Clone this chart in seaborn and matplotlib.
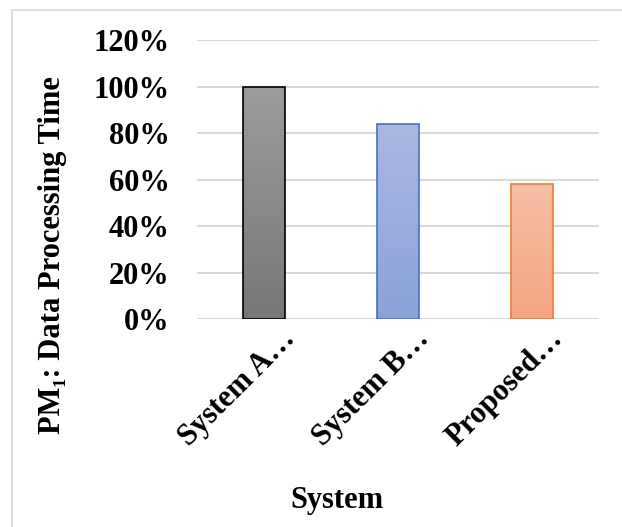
import numpy as np
import pandas as pd
import seaborn as sns
import matplotlib.pyplot as plt
import matplotlib.transforms as mtransforms
from matplotlib.patches import Rectangle
from matplotlib.colors import LinearSegmentedColormap
from matplotlib.ticker import PercentFormatter

systems = ['System A…', 'System B…', 'Proposed…']
times = [100, 84, 58]
top_colors = ['#9c9c9c', '#aab8e1', '#f6bea6']
bottom_colors = ['#777777', '#8aa2d8', '#f4a582']
edge_colors = ['#000000', '#4472c4', '#ed7d31']

df = pd.DataFrame({'System': systems, 'Time': times})

sns.set_theme(style='white')
plt.rcParams['font.family'] = ['Liberation Serif', 'DejaVu Serif']
plt.rcParams['font.weight'] = 'bold'
plt.rcParams['text.color'] = 'black'
plt.rcParams['axes.labelcolor'] = 'black'
plt.rcParams['xtick.color'] = 'black'
plt.rcParams['ytick.color'] = 'black'

fig = plt.figure(figsize=(6.22, 5.27), dpi=100)
ax = fig.add_axes([0.317, 0.394, 0.646, 0.530])

sns.barplot(data=df, x='System', y='Time', ax=ax, width=0.31,
            palette=bottom_colors, hue='System', legend=False, saturation=1)

# gradient fill on each bar
for patch, c_top, c_bot, c_edge in zip(ax.patches, top_colors, bottom_colors, edge_colors):
    x0, y0 = patch.get_x(), patch.get_y()
    w, h = patch.get_width(), patch.get_height()
    cmap = LinearSegmentedColormap.from_list('g', [c_bot, c_top])
    grad = np.linspace(0, 1, 256).reshape(-1, 1)
    im = ax.imshow(grad, cmap=cmap, aspect='auto', origin='lower',
                   extent=(x0, x0 + w, y0, y0 + h), zorder=2)
    im.set_clip_path(patch)
    patch.set_facecolor('none')
    patch.set_edgecolor(c_edge)
    patch.set_linewidth(1.2)
    patch.set_zorder(3)

ax.set_xlim(-0.5, 2.5)
ax.set_ylim(0, 120)
ax.set_yticks(np.arange(0, 121, 20))
ax.yaxis.set_major_formatter(PercentFormatter(decimals=0))
ax.yaxis.grid(True, color='#d9d9d9', linewidth=1.5)
ax.set_axisbelow(True)
for s in ax.spines.values():
    s.set_visible(False)

ax.tick_params(axis='y', labelsize=22, pad=20, length=0, labelcolor='black')
ax.tick_params(axis='x', labelsize=22, pad=2, length=0, labelcolor='black')
for lbl in ax.get_yticklabels():
    lbl.set_fontweight('bold')
for lbl in ax.get_xticklabels():
    lbl.set_fontweight('bold')
    lbl.set_rotation(45)
    lbl.set_ha('right')
    lbl.set_va('center')
    lbl.set_rotation_mode('anchor')
    lbl.set_transform(lbl.get_transform() +
                      mtransforms.ScaledTranslation(0.27, -0.12, fig.dpi_scale_trans))

ax.set_xlabel('System', fontsize=22, fontweight='bold', color='black')
ax.xaxis.set_label_coords(0.348, -0.647)
ax.xaxis.label.set_va('center')
ax.set_ylabel('PM₁: Data Processing Time', fontsize=22, fontweight='bold', color='black')
ax.yaxis.set_label_coords(-0.36, 0.23)
ax.yaxis.label.set_va('center')

# outer chart border
fig.patches.append(Rectangle((12 / 622, -0.1), 1.2, 1 - 10 / 527 + 0.1,
                             transform=fig.transFigure, fill=False,
                             edgecolor='#d9d9d9', linewidth=1.2))

plt.savefig('out.png', dpi=100)
